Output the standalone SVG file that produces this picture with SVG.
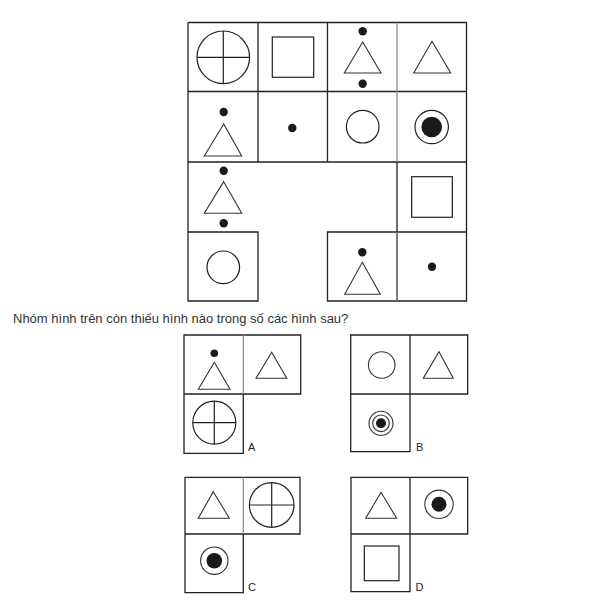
<svg xmlns="http://www.w3.org/2000/svg" width="592" height="606" viewBox="0 0 592 606">
<style>
.g{fill:none;stroke:#222;stroke-width:1.3}
.gg{fill:none;stroke:#888;stroke-width:1.2}
.s{fill:none;stroke:#222;stroke-width:1.2}
.t{fill:none;stroke:#333;stroke-width:1.1}
.d{fill:#1a1a1a}
.txt{font-family:"Liberation Sans",Arial,sans-serif;font-size:13px;fill:#333}
.lbl{font-family:"Liberation Sans",Arial,sans-serif;font-size:11px;fill:#222}
</style>
<rect width="592" height="606" fill="#fff"/>
<g id="connectors">
<!-- main grid -->
<path class="g" d="M188,22.5H466.5V162M188,22.5V301H258V232H188M258,22.5V162M327.5,22.5V162M188,91.5H466.5M188,162H466.5M397,162V301M327.5,232H466.5V301H327.5Z"/>
<path class="gg" d="M397,22.5V162M397,232V301"/>
<path class="g" d="M466.5,162V232"/>
<!-- option A -->
<path class="g" d="M184,335H300.7V394H184ZM184,394V453.3H243.3V394"/>
<path class="gg" d="M243.3,335V394"/>
<!-- option B -->
<path class="g" d="M350.7,335H467.7V394H350.7ZM350.7,394V451.7H410V394M410,335V394"/>
<!-- option C -->
<path class="g" d="M185,477.3H300V534H185ZM185,534V592.7H243.3V534"/>
<path class="gg" d="M243.3,477.3V534"/>
<!-- option D -->
<path class="g" d="M351,477.3H467.7V534H351ZM351,534V591.7H410V534M410,477.3V534"/>
</g>
<g id="cell-r0c0"><circle class="s" cx="223.3" cy="57.3" r="26.3"/><path class="s" d="M197,57.3H249.6M223.3,31V83.6"/></g>
<g id="cell-r0c1"><rect class="s" x="272.3" y="37" width="41.4" height="40.3"/></g>
<g id="cell-r0c2"><circle class="d" cx="362.7" cy="31.3" r="4.2"/><path class="t" d="M362.7,42L381,73H344.3Z"/><circle class="d" cx="362.7" cy="83.7" r="4.2"/></g>
<g id="cell-r0c3"><path class="t" d="M432,41.3L450.7,73H413.7Z"/></g>
<g id="cell-r1c0"><circle class="d" cx="223.7" cy="112" r="4.2"/><path class="t" d="M223.7,124L241.7,156H204.3Z"/></g>
<g id="cell-r1c1"><circle class="d" cx="292.3" cy="128" r="4.2"/></g>
<g id="cell-r1c2"><circle class="s" cx="362.7" cy="126.7" r="16.3"/></g>
<g id="cell-r1c3"><circle class="s" cx="431.7" cy="127" r="16.7"/><circle class="d" cx="431.7" cy="127" r="10.3"/></g>
<g id="cell-r2c0"><circle class="d" cx="223.7" cy="170.7" r="4.2"/><path class="t" d="M223.7,181.7L241.7,213.3H204.3Z"/><circle class="d" cx="223.7" cy="223.3" r="4.2"/></g>
<g id="cell-r2c3"><rect class="s" x="411.7" y="176.7" width="40.6" height="40.6"/></g>
<g id="cell-r3c0"><circle class="s" cx="223.3" cy="267.3" r="16.3"/></g>
<g id="cell-r3c2"><circle class="d" cx="362.3" cy="252.3" r="4.2"/><path class="t" d="M362.3,262.3L380.3,294.3H344.7Z"/></g>
<g id="cell-r3c3"><circle class="d" cx="432" cy="266.7" r="4.2"/></g>
<g id="question"><text class="txt" x="13" y="322.5">Nhóm hình trên còn thiếu hình nào trong số các hình sau?</text></g>
<g id="option-A">
<circle class="d" cx="214.3" cy="353.3" r="3.8"/><path class="t" d="M214.3,362.3L230,389.3H198.3Z"/>
<path class="t" d="M271.7,352.3L286.7,378.3H256Z"/>
<circle class="s" cx="214.3" cy="422.7" r="21.5"/><path class="s" d="M192.8,422.7H235.8M214.3,401.2V444.2"/>
<text class="lbl" x="248" y="450.5">A</text>
</g>
<g id="option-B">
<circle class="t" cx="381.7" cy="365" r="13.3"/>
<path class="t" d="M439,351.7L453.3,378.3H423.3Z"/>
<circle class="t" cx="381" cy="423.3" r="12"/><circle class="t" cx="381" cy="423.3" r="8.3"/><circle class="d" cx="381" cy="423.3" r="5"/>
<text class="lbl" x="416" y="450.5">B</text>
</g>
<g id="option-C">
<path class="t" d="M213.3,491.7L229.3,518.3H198.3Z"/>
<circle class="s" cx="271.7" cy="505" r="22.3"/><path class="s" d="M249.4,505H294M271.7,482.7V527.3"/>
<circle class="t" cx="214.3" cy="560.7" r="13.7"/><circle class="d" cx="214.3" cy="560.7" r="7.8"/>
<text class="lbl" x="248" y="590.5">C</text>
</g>
<g id="option-D">
<path class="t" d="M381,492.3L396.7,518.3H365.7Z"/>
<circle class="t" cx="439" cy="504.3" r="14.2"/><circle class="d" cx="439" cy="504.3" r="7.5"/>
<rect class="s" x="364.3" y="546" width="34.7" height="34.7"/>
<text class="lbl" x="415.5" y="590.5">D</text>
</g>
</svg>
